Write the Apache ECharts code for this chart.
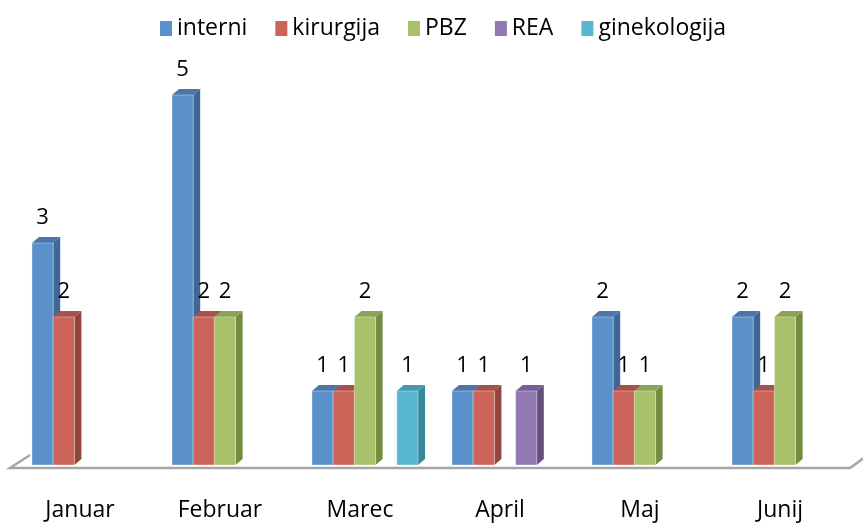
<!DOCTYPE html>
<html>
<head>
<meta charset="utf-8">
<script src="https://cdn.jsdelivr.net/npm/echarts@6/dist/echarts.min.js"></script>
<style>
    html, body { margin: 0; padding: 0; background: #fff; }
    #chart { width: 863px; height: 524px; }
</style>
</head>
<body>
<div id="chart"></div>
<script>
// podatki
var months = ['Januar', 'Februar', 'Marec', 'April', 'Maj', 'Junij']
var interni = [3, 5, 1, 1, 2, 2]
var kirurgija = [2, 2, 1, 1, 1, 1]
var pbz = [null, 2, 2, null, 1, 2]
var rea = [null, null, null, 1, null, null]
var ginekologija = [null, null, 1, null, null, null]

var seriesList = [
    { name: 'interni', values: interni, face: '#5B90CA', side: '#3F6796', top: '#4A76AA' },
    { name: 'kirurgija', values: kirurgija, face: '#CC645A', side: '#93443C', top: '#A8514A' },
    { name: 'PBZ', values: pbz, face: '#A9C16A', side: '#728C40', top: '#8AA456' },
    { name: 'REA', values: rea, face: '#9178B1', side: '#63507F', top: '#77609A' },
    { name: 'ginekologija', values: ginekologija, face: '#58B7CE', side: '#37889B', top: '#4599B0' }
]

var DX = 7, DY = 6

function makeRender(slot, s) {
    return function(params, api) {
        var cat = api.value(0)
        var v = api.value(1)
        var base = api.coord([cat, 0])
        var tip = api.coord([cat, v])
        var band = api.size([1, 0])[0]
        var w = band * 0.1515
        var x = base[0] - band / 2 + band * 0.157 + slot * w
        var y0 = base[1], y1 = tip[1]
        return {
            type: 'group',
            children: [
                {
                    type: 'polygon',
                    shape: { points: [[x + w, y1], [x + w + DX, y1 - DY], [x + w + DX, y0 - DY], [x + w, y0]] },
                    style: { fill: s.side }
                },
                {
                    type: 'polygon',
                    shape: { points: [[x, y1], [x + DX, y1 - DY], [x + w + DX, y1 - DY], [x + w, y1]] },
                    style: { fill: s.top }
                },
                {
                    type: 'rect',
                    shape: { x: x, y: y1, width: w, height: y0 - y1 },
                    style: { fill: s.face, stroke: 'rgba(255,255,255,0.35)', lineWidth: 1 }
                },
                {
                    type: 'text',
                    x: x + w / 2,
                    y: y1 - 25,
                    style: {
                        text: String(v),
                        fill: '#000',
                        fontSize: 22,
                        fontFamily: 'Open Sans',
                        align: 'center',
                        verticalAlign: 'middle'
                    }
                }
            ]
        }
    }
}

var series = seriesList.map(function(s, slot) {
    var data = []
    s.values.forEach(function(v, i) {
        if (v != null) data.push([i, v])
    })
    return {
        name: s.name,
        type: 'custom',
        renderItem: makeRender(slot, s),
        itemStyle: { color: s.face },
        encode: { x: 0, y: 1 },
        clip: false,
        data: data
    }
})

var myChart = echarts.init(document.getElementById('chart'))
var option = {
    animation: false,
    textStyle: { fontFamily: 'Open Sans' },
    legend: {
        left: 155,
        top: 12,
        icon: 'rect',
        itemWidth: 12,
        itemHeight: 15,
        itemGap: 28,
        textStyle: { fontSize: 23, color: '#000', fontFamily: 'Open Sans' },
        data: seriesList.map(function(s) { return s.name })
    },
    grid: { left: 10, right: 13, top: 95, bottom: 59 },
    xAxis: {
        type: 'category',
        data: months,
        axisLine: { show: false },
        axisTick: { show: false },
        axisLabel: { fontSize: 23, color: '#000', margin: 34, fontFamily: 'Open Sans' }
    },
    yAxis: {
        type: 'value',
        min: 0,
        max: 5,
        show: false
    },
    graphic: [
        {
            type: 'polyline',
            shape: { points: [[30, 455], [10, 468], [850, 468], [868, 455]] },
            style: { stroke: '#a6a6a6', lineWidth: 2.5, fill: null },
            z: -1
        }
    ],
    series: series
}
myChart.setOption(option)
</script>
</body>
</html>
